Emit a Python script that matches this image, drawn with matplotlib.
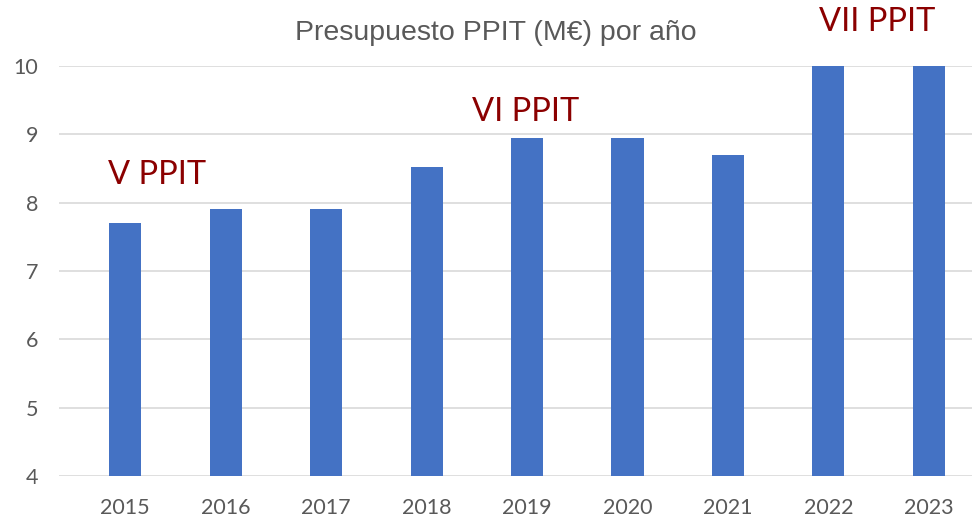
import matplotlib.pyplot as plt

# Data
years = ["2015", "2016", "2017", "2018", "2019", "2020", "2021", "2022", "2023"]
budget = [7.7, 7.9, 7.9, 8.52, 8.95, 8.95, 8.7, 10.0, 10.0]

# Period labels (text, x position in category units, y value)
period_labels = ["V PPIT", "VI PPIT", "VII PPIT"]
period_x = [0.32, 3.99, 7.49]
period_y = [8.40, 9.33, 10.64]

fig = plt.figure(figsize=(9.72, 5.19), dpi=100)
ax = fig.add_axes([0.061, 0.083, 0.939, 0.79])

x = range(len(years))
ax.bar(x, budget, width=0.32, color="#4472C4", zorder=3)

ax.set_ylim(4, 10)
ax.set_xlim(-0.657, 8.43)
ax.set_yticks(range(4, 11))
ax.set_xticks(list(x))
ax.set_xticklabels(years)

ax.grid(axis="y", color="#d9d9d9", linewidth=1.2, zorder=0)
for s in ax.spines.values():
    s.set_visible(False)
ax.tick_params(length=0, labelsize=15.5, colors="#595959", labelfontfamily="Lato")
ax.tick_params(axis="y", pad=15)
ax.tick_params(axis="x", pad=16)

fig.text(0.51, 0.937, "Presupuesto PPIT (M€) por año", ha="center", va="center",
         fontsize=20.5, color="#595959", family="Liberation Sans")

for lab, px, py in zip(period_labels, period_x, period_y):
    ax.text(px, py, lab, ha="center", va="center", fontsize=23.5,
            color="#8B0000", family="Lato", clip_on=False)

fig.savefig("out.png", dpi=100)
